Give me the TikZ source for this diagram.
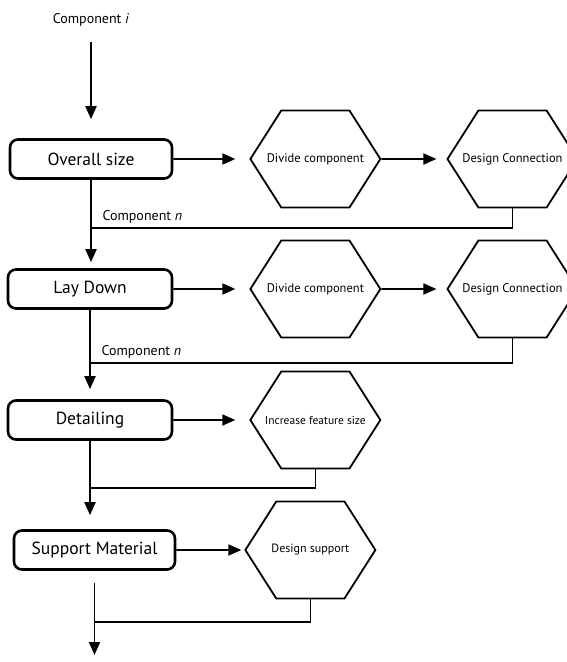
\documentclass[tikz,border=0pt]{standalone}
\usepackage{fontspec}
\setmainfont{PT Sans}
\usetikzlibrary{arrows.meta,positioning,shapes.symbols}

\begin{document}
\begin{tikzpicture}[
  x=1pt,y=1pt,
  stage/.style={draw,rounded corners=8pt,line width=2.6pt,minimum height=39pt,inner sep=0pt,font=\fontsize{17.5}{20}\selectfont},
  task/.style={draw,signal,signal to=east and west,signal pointer angle=115,line width=1.8pt,minimum width=130pt,minimum height=97pt,inner sep=0pt,font=\fontsize{12.5}{15}\selectfont,
    execute at begin node={\hbox to 0pt\bgroup\hss},execute at end node={\hss\egroup}},
  arrow/.style={-{Triangle[length=13pt,width=11pt]},line width=1.8pt},
  feed/.style={line width=1.4pt},
  note/.style={font=\fontsize{14}{16}\selectfont,anchor=base west}
]
  \useasboundingbox (0,0) rectangle (567,-662);

  \node[font=\fontsize{14}{16}\selectfont] (comp) at (91,-20) {Component \textit{i}};
  \node[stage,minimum width=162pt] (size) at (91,-159) {Overall size};
  \node[task,right=76pt of size] (divide1) {Divide component};
  \node[task,right=65pt of divide1] (connect1) {Design Connection};

  \node[stage,minimum width=164pt] (lay) at (90,-289) {Lay Down};
  \node[task,right=76pt of lay] (divide2) {Divide component};
  \node[task,right=65pt of divide2] (connect2) {Design Connection};

  \node[stage,minimum width=164pt] (detail) at (90,-420) {Detailing};
  \node[task,right=76pt of detail,font=\fontsize{11.5}{14}\selectfont] (feature) {Increase feature size};

  \node[stage,minimum width=161pt] (support) at (94.5,-550) {Support Material};
  \node[task,right=68pt of support,font=\fontsize{12}{14}\selectfont] (dsupport) {Design support};

  \coordinate (j1) at (size.south |- 0,-228);
  \coordinate (j2) at (lay.south |- 0,-363);
  \coordinate (j3) at (detail.south |- 0,-488);
  \coordinate (j4) at (support.south |- 0,-622);
  \coordinate (out) at (support.south |- 0,-655);

  \draw[arrow,shorten <=12pt,shorten >=19pt] (comp.south) -- (comp.south |- size.north);
  \draw[arrow,shorten >=14pt] (size) -- (divide1);
  \draw[arrow,shorten >=10pt] (divide1) -- (connect1);
  \draw[arrow,shorten >=6pt] (size.south) -- (size.south |- lay.north);
  \draw[feed] (connect1.south) |- (j1);
  \node[note] at ([shift={(8,8)}]j1) {Component \textit{n}};

  \draw[arrow,shorten >=14pt] (lay) -- (divide2);
  \draw[arrow,shorten >=10pt] (divide2) -- (connect2);
  \draw[arrow,shorten >=10pt] (lay.south) -- (lay.south |- detail.north);
  \draw[feed] (connect2.south) |- (j2);
  \node[note] at ([shift={(8,8)}]j2) {Component \textit{n}};

  \draw[arrow,shorten >=14pt] (detail) -- (feature);
  \draw[arrow,shorten >=14pt] (detail.south) -- (detail.south |- support.north);
  \draw[feed] (feature.south) |- (j3);

  \draw[arrow,shorten >=3pt] (support) -- (dsupport);
  \draw[arrow,shorten <=12pt] (support.south) -- (out);
  \draw[feed] (dsupport.south) |- (j4);
\end{tikzpicture}
\end{document}
